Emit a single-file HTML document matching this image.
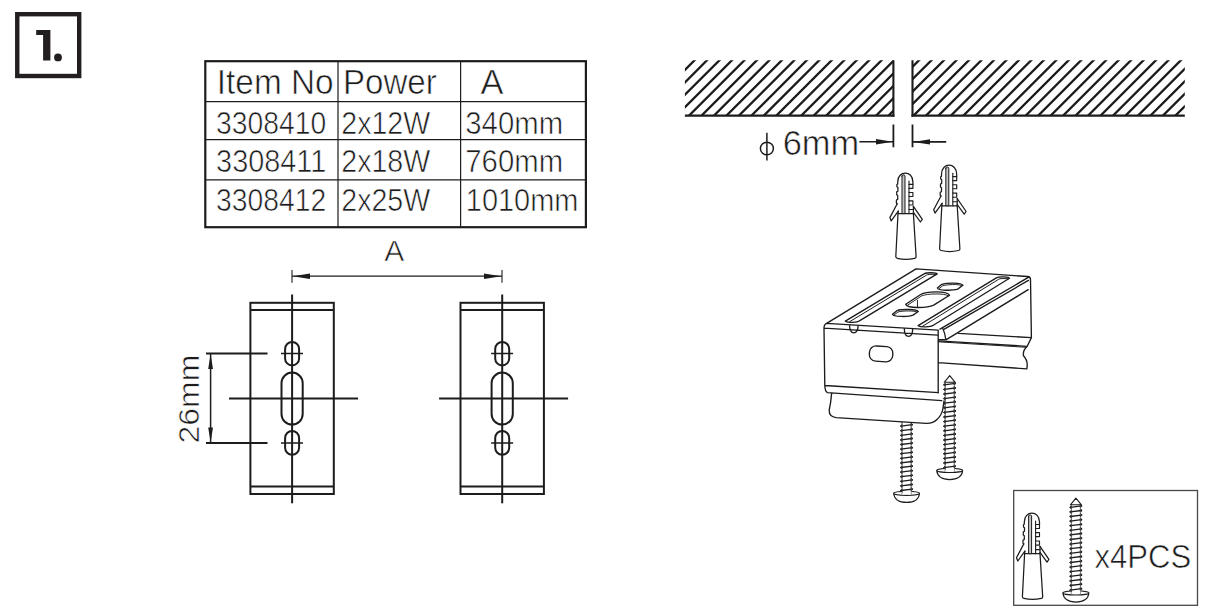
<!DOCTYPE html>
<html>
<head>
<meta charset="utf-8">
<title>1.</title>
<style>
html,body{margin:0;padding:0;background:#fff;}
body{width:1210px;height:616px;overflow:hidden;font-family:"Liberation Sans",sans-serif;}
svg{display:block;}
.t{font-family:"Liberation Sans",sans-serif;fill:#1c1c1c;stroke:#fff;stroke-width:0.6px;paint-order:fill stroke;}
</style>
</head>
<body>
<svg width="1210" height="616" viewBox="0 0 1210 616">
<rect width="1210" height="616" fill="#fff"/>
<defs>
<clipPath id="cl"><rect x="684.9" y="60.3" width="208.5" height="55.4"/></clipPath>
<clipPath id="cr"><rect x="912.5" y="60.3" width="272.3" height="55.4"/></clipPath>
<g id="plug" fill="none" stroke="#1c1c1c" stroke-width="1.25" stroke-linejoin="round" stroke-linecap="round">
<path d="M-7.3 40.6 L-9.5 83.6 Q-9.5 85 -8 85.3 Q0.5 87.4 9.4 85.3 Q10.9 85 10.8 83.6 L8.1 40.6" fill="#fff"/>
<path d="M-7 38.1 L-7.3 40.6 H8.1 V33.3"/>
<path d="M-8.1 30.8 L-15.4 44.6 L-14.1 47.9 L-7 38.1"/>
<path d="M8.1 33.3 L17 46.3 L15.1 49 L8.1 39.3"/>
<path d="M-8.1 30.8 L-8.9 30.2 V27 L-7.6 26.4 V22.6 L-8.6 21.8 V18.8 L-7.4 18.2 V14.6 L-8.4 13.8 V11.6 L-7.6 11 V9 C-7.6 -3 7.6 -3 7.6 9 V11.4"/>
<path d="M3.7 11.4 H7.6 V15.4 H3.7 M3.7 19.5 H7.6 V23.5 H3.7 M3.7 27.9 H7.6 V32 H3.7 M3.7 36.5 H8.1" stroke-width="1.15"/>
<path d="M3.7 8 V40.6" stroke-width="1.1"/>
<path d="M-3.3 3 V40.6 H-0.3 V3 C-0.3 1.4 -3.3 1.4 -3.3 3Z" fill="#c4c4c4" stroke-width="1"/>
</g>
<g id="screw" fill="none" stroke="#1c1c1c" stroke-width="1.1" stroke-linejoin="round" stroke-linecap="round">
<path d="M-12.9 94.7 C-12.6 100.2 -8 103.85 0 103.85 C8 103.85 12.6 100.2 12.9 94.7" fill="#fff" stroke-width="1.2"/>
<ellipse cx="0" cy="94.7" rx="12.9" ry="2.1" fill="#fff"/>
<path d="M-4.7 7 H4.7 V95.8 H-4.7Z" fill="#fff" stroke="none"/>
<path d="M0 0 L-5.5 6.6 H5.5 Z" fill="#fff"/>
<path d="M-4.6 7.6 L-6.3 9.1 L-4.6 10.6 Z M4.6 6.2 L6.3 7.7 L4.6 9.2 Z M-4.6 12.2 L-6.3 13.7 L-4.6 15.2 Z M4.6 10.8 L6.3 12.3 L4.6 13.8 Z M-4.6 16.8 L-6.3 18.3 L-4.6 19.8 Z M4.6 15.4 L6.3 16.9 L4.6 18.4 Z M-4.6 21.4 L-6.3 22.9 L-4.6 24.4 Z M4.6 20 L6.3 21.5 L4.6 23 Z M-4.6 26 L-6.3 27.5 L-4.6 29 Z M4.6 24.6 L6.3 26.1 L4.6 27.6 Z M-4.6 30.6 L-6.3 32.1 L-4.6 33.6 Z M4.6 29.2 L6.3 30.7 L4.6 32.2 Z M-4.6 35.2 L-6.3 36.7 L-4.6 38.2 Z M4.6 33.8 L6.3 35.3 L4.6 36.8 Z M-4.6 39.8 L-6.3 41.3 L-4.6 42.8 Z M4.6 38.4 L6.3 39.9 L4.6 41.4 Z M-4.6 44.4 L-6.3 45.9 L-4.6 47.4 Z M4.6 43 L6.3 44.5 L4.6 46 Z M-4.6 49 L-6.3 50.5 L-4.6 52 Z M4.6 47.6 L6.3 49.1 L4.6 50.6 Z M-4.6 53.6 L-6.3 55.1 L-4.6 56.6 Z M4.6 52.2 L6.3 53.7 L4.6 55.2 Z M-4.6 58.2 L-6.3 59.7 L-4.6 61.2 Z M4.6 56.8 L6.3 58.3 L4.6 59.8 Z M-4.6 62.8 L-6.3 64.3 L-4.6 65.8 Z M4.6 61.4 L6.3 62.9 L4.6 64.4 Z M-4.6 67.4 L-6.3 68.9 L-4.6 70.4 Z M4.6 66 L6.3 67.5 L4.6 69 Z M-4.6 72 L-6.3 73.5 L-4.6 75 Z M4.6 70.6 L6.3 72.1 L4.6 73.6 Z M-4.6 76.6 L-6.3 78.1 L-4.6 79.6 Z M4.6 75.2 L6.3 76.7 L4.6 78.2 Z M-4.6 81.2 L-6.3 82.7 L-4.6 84.2 Z M4.6 79.8 L6.3 81.3 L4.6 82.8 Z M-4.6 85.8 L-6.3 87.3 L-4.6 88.8 Z M4.6 84.4 L6.3 85.9 L4.6 87.4 Z M-4.6 90.4 L-6.3 91.9 L-4.6 93.4 Z M4.6 89 L6.3 90.5 L4.6 92 Z" fill="#1c1c1c" stroke-width="0.7"/>
<path d="M-5.6 9.1 L5.6 7.7 M-5.6 13.7 L5.6 12.3 M-5.6 18.3 L5.6 16.9 M-5.6 22.9 L5.6 21.5 M-5.6 27.5 L5.6 26.1 M-5.6 32.1 L5.6 30.7 M-5.6 36.7 L5.6 35.3 M-5.6 41.3 L5.6 39.9 M-5.6 45.9 L5.6 44.5 M-5.6 50.5 L5.6 49.1 M-5.6 55.1 L5.6 53.7 M-5.6 59.7 L5.6 58.3 M-5.6 64.3 L5.6 62.9 M-5.6 68.9 L5.6 67.5 M-5.6 73.5 L5.6 72.1 M-5.6 78.1 L5.6 76.7 M-5.6 82.7 L5.6 81.3 M-5.6 87.3 L5.6 85.9 M-5.6 91.9 L5.6 90.5" stroke-width="1.3"/>
<path d="M-4.7 7 V95.8 M4.7 7 V95.8" stroke-width="0.6" stroke="#555"/>
</g>
<clipPath id="cs1"><rect x="890" y="422.4" width="40" height="90"/></clipPath>
</defs>
<rect x="17.25" y="14.2" width="61.95" height="61.8" fill="none" stroke="#231f20" stroke-width="4.4"/>
<path d="M36.2 29.9 H50.4 V60.6 H43.1 V35.1 H36.2 Z" fill="#231f20"/>
<circle cx="58" cy="57.4" r="3.9" fill="#231f20"/>
<g fill="none" stroke="#1c1c1c">
<rect x="205.3" y="61.2" width="380.6" height="166" stroke-width="2.2"/>
<path d="M338 61 V227.5 M460.6 61 V227.5 M205 101.6 H586 M205 139.6 H586 M205 179.8 H586" stroke-width="1.2"/>
</g>
<text class="t" x="216.8" y="94.2" font-size="34.5" textLength="116.8" lengthAdjust="spacingAndGlyphs">Item No</text>
<text class="t" x="343" y="94.2" font-size="34.5" textLength="93.8" lengthAdjust="spacingAndGlyphs">Power</text>
<text class="t" x="480.6" y="94.2" font-size="34.5" textLength="23" lengthAdjust="spacingAndGlyphs">A</text>
<text class="t" x="216.1" y="133.6" font-size="30.5" textLength="110.2" lengthAdjust="spacingAndGlyphs">3308410</text>
<text class="t" x="341.3" y="133.6" font-size="30.5" textLength="88.9" lengthAdjust="spacingAndGlyphs">2x12W</text>
<text class="t" x="465.3" y="133.6" font-size="30.5" textLength="97.8" lengthAdjust="spacingAndGlyphs">340mm</text>
<text class="t" x="216.1" y="172.1" font-size="30.5" textLength="110.2" lengthAdjust="spacingAndGlyphs">3308411</text>
<text class="t" x="341.3" y="172.1" font-size="30.5" textLength="88.9" lengthAdjust="spacingAndGlyphs">2x18W</text>
<text class="t" x="465.3" y="172.1" font-size="30.5" textLength="97.8" lengthAdjust="spacingAndGlyphs">760mm</text>
<text class="t" x="216.1" y="211.3" font-size="30.5" textLength="110.2" lengthAdjust="spacingAndGlyphs">3308412</text>
<text class="t" x="341.3" y="211.3" font-size="30.5" textLength="88.9" lengthAdjust="spacingAndGlyphs">2x25W</text>
<text class="t" x="465.8" y="211.3" font-size="30.5" textLength="112.6" lengthAdjust="spacingAndGlyphs">1010mm</text>
<text class="t" x="384.3" y="261.3" font-size="30" textLength="20" lengthAdjust="spacingAndGlyphs">A</text>
<g fill="none" stroke="#1c1c1c" stroke-width="1.3">
<path d="M292 276.2 H502"/><path d="M292 270 V282.8 M502 270 V282.8" stroke-width="1.1"/>
</g>
<path d="M292.6 276.2 L310 273.4 V279 Z M501.4 276.2 L484 273.4 V279 Z" fill="#1c1c1c"/>
<g fill="none" stroke="#1c1c1c" stroke-width="2">
<rect x="250.4" y="302.8" width="83.4" height="191.2"/>
<path d="M250.4 310.1 H333.8 M250.4 486.6 H333.8"/>
<path d="M292.1 294.5 V503.3" stroke-width="2"/>
<path d="M229 398.5 H358" stroke-width="1.8"/>
<rect x="285.1" y="342" width="14" height="23.4" rx="7" ry="7"/>
<rect x="285.1" y="431" width="14" height="23.8" rx="7" ry="7"/>
<rect x="281.5" y="372.6" width="21.2" height="52" rx="10.6" ry="10.6"/>
<path d="M281 353.5 H303 M281 443 H303" stroke-width="1.7"/>
</g>
<g fill="none" stroke="#1c1c1c" stroke-width="2">
<rect x="460.5" y="302.8" width="83.4" height="191.2"/>
<path d="M460.5 310.1 H543.9 M460.5 486.6 H543.9"/>
<path d="M502.2 294.5 V503.3" stroke-width="2"/>
<path d="M439.1 398.5 H568.1" stroke-width="1.8"/>
<rect x="495.2" y="342" width="14" height="23.4" rx="7" ry="7"/>
<rect x="495.2" y="431" width="14" height="23.8" rx="7" ry="7"/>
<rect x="491.6" y="372.6" width="21.2" height="52" rx="10.6" ry="10.6"/>
<path d="M491.1 353.5 H513.1 M491.1 443 H513.1" stroke-width="1.7"/>
</g>
<g fill="none" stroke="#1c1c1c" stroke-width="1.8">
<path d="M206 353.5 H267.5 M206 443 H267.5"/>
<path d="M210.6 354 V442.5" stroke-width="1.5"/>
</g>
<path d="M210.6 354 L208.2 369 H213 Z M210.6 442.6 L208.2 427.5 H213 Z" fill="#1c1c1c"/>
<text class="t" font-size="30.2" transform="translate(199.2 443.6) rotate(-90)" textLength="89" lengthAdjust="spacingAndGlyphs">26mm</text>
<g stroke="#1c1c1c" fill="none">
<path d="M621.68 58.3 L562.28 117.7 M634.15 58.3 L574.75 117.7 M646.62 58.3 L587.22 117.7 M659.09 58.3 L599.69 117.7 M671.56 58.3 L612.16 117.7 M684.03 58.3 L624.63 117.7 M696.5 58.3 L637.1 117.7 M708.97 58.3 L649.57 117.7 M721.44 58.3 L662.04 117.7 M733.91 58.3 L674.51 117.7 M746.38 58.3 L686.98 117.7 M758.85 58.3 L699.45 117.7 M771.32 58.3 L711.92 117.7 M783.79 58.3 L724.39 117.7 M796.26 58.3 L736.86 117.7 M808.73 58.3 L749.33 117.7 M821.2 58.3 L761.8 117.7 M833.67 58.3 L774.27 117.7 M846.14 58.3 L786.74 117.7 M858.61 58.3 L799.21 117.7 M871.08 58.3 L811.68 117.7 M883.55 58.3 L824.15 117.7 M896.02 58.3 L836.62 117.7 M908.49 58.3 L849.09 117.7 M920.96 58.3 L861.56 117.7 M933.43 58.3 L874.03 117.7 M945.9 58.3 L886.5 117.7 M958.37 58.3 L898.97 117.7 M970.84 58.3 L911.44 117.7 M983.31 58.3 L923.91 117.7 M995.78 58.3 L936.38 117.7 M1008.25 58.3 L948.85 117.7 M1020.72 58.3 L961.32 117.7 M1033.19 58.3 L973.79 117.7 M1045.66 58.3 L986.26 117.7 M1058.13 58.3 L998.73 117.7 M1070.6 58.3 L1011.2 117.7 M1083.07 58.3 L1023.67 117.7 M1095.54 58.3 L1036.14 117.7 M1108.01 58.3 L1048.61 117.7 M1120.48 58.3 L1061.08 117.7 M1132.95 58.3 L1073.55 117.7 M1145.42 58.3 L1086.02 117.7 M1157.89 58.3 L1098.49 117.7 M1170.36 58.3 L1110.96 117.7 M1182.83 58.3 L1123.43 117.7 M1195.3 58.3 L1135.9 117.7 M1207.77 58.3 L1148.37 117.7 M1220.24 58.3 L1160.84 117.7 M1232.71 58.3 L1173.31 117.7 M1245.18 58.3 L1185.78 117.7" stroke-width="2.3" clip-path="url(#cl)"/>
<path d="M621.68 58.3 L562.28 117.7 M634.15 58.3 L574.75 117.7 M646.62 58.3 L587.22 117.7 M659.09 58.3 L599.69 117.7 M671.56 58.3 L612.16 117.7 M684.03 58.3 L624.63 117.7 M696.5 58.3 L637.1 117.7 M708.97 58.3 L649.57 117.7 M721.44 58.3 L662.04 117.7 M733.91 58.3 L674.51 117.7 M746.38 58.3 L686.98 117.7 M758.85 58.3 L699.45 117.7 M771.32 58.3 L711.92 117.7 M783.79 58.3 L724.39 117.7 M796.26 58.3 L736.86 117.7 M808.73 58.3 L749.33 117.7 M821.2 58.3 L761.8 117.7 M833.67 58.3 L774.27 117.7 M846.14 58.3 L786.74 117.7 M858.61 58.3 L799.21 117.7 M871.08 58.3 L811.68 117.7 M883.55 58.3 L824.15 117.7 M896.02 58.3 L836.62 117.7 M908.49 58.3 L849.09 117.7 M920.96 58.3 L861.56 117.7 M933.43 58.3 L874.03 117.7 M945.9 58.3 L886.5 117.7 M958.37 58.3 L898.97 117.7 M970.84 58.3 L911.44 117.7 M983.31 58.3 L923.91 117.7 M995.78 58.3 L936.38 117.7 M1008.25 58.3 L948.85 117.7 M1020.72 58.3 L961.32 117.7 M1033.19 58.3 L973.79 117.7 M1045.66 58.3 L986.26 117.7 M1058.13 58.3 L998.73 117.7 M1070.6 58.3 L1011.2 117.7 M1083.07 58.3 L1023.67 117.7 M1095.54 58.3 L1036.14 117.7 M1108.01 58.3 L1048.61 117.7 M1120.48 58.3 L1061.08 117.7 M1132.95 58.3 L1073.55 117.7 M1145.42 58.3 L1086.02 117.7 M1157.89 58.3 L1098.49 117.7 M1170.36 58.3 L1110.96 117.7 M1182.83 58.3 L1123.43 117.7 M1195.3 58.3 L1135.9 117.7 M1207.77 58.3 L1148.37 117.7 M1220.24 58.3 L1160.84 117.7 M1232.71 58.3 L1173.31 117.7 M1245.18 58.3 L1185.78 117.7" stroke-width="2.3" clip-path="url(#cr)"/>
<path d="M684.9 115.7 H894.4 M911.5 115.7 H1184.8" stroke-width="2.3"/>
<path d="M893.4 60.3 V116.8 M912.5 60.3 V116.8" stroke-width="2.1"/>
<path d="M893.4 124.6 V147.2 M912.5 124.6 V147.2" stroke-width="1.8"/>
<path d="M859.4 141.8 H893 M913 141.9 H946.2" stroke-width="1.6"/>
</g>
<path d="M892.8 141.8 L876 139.1 V144.5 Z M913.2 141.9 L930 139.2 V144.6 Z" fill="#1c1c1c"/>
<text class="t" x="782.7" y="155.2" font-size="34.5" textLength="76.5" lengthAdjust="spacingAndGlyphs">6mm</text>
<g fill="none" stroke="#1c1c1c" stroke-width="1.5"><ellipse cx="766.9" cy="148.5" rx="6.5" ry="6.3"/><path d="M766.9 132.8 V160.6"/></g>
<use href="#plug" x="905.3" y="173"/>
<use href="#plug" x="949.1" y="165.2"/>
<use href="#plug" x="1031.9" y="513.1"/>
<g clip-path="url(#cs1)"><use href="#screw" x="906.6" y="398.6"/></g>
<use href="#screw" x="949.7" y="375.7"/>
<use href="#screw" x="1075.9" y="498.2"/>
<g fill="none" stroke="#1c1c1c" stroke-width="1.35" stroke-linejoin="round" stroke-linecap="round">
<path d="M824 328.2 Q824 324.2 826.6 323.3 L916.1 268.8 L1027.6 276.5 Q1030.5 276.7 1030.5 279.5 L1031.4 337 M826.6 323.3 L938.2 330.1 M824 328.2 L937.6 335.2 M824 328.2 L824.8 385.5 M938.2 330.1 V392.7 M824.8 385.5 L938.4 392.7 M824.8 385.5 Q825 391.5 827.5 392.7 L941.8 400.7 M831.6 393.4 Q831 402 829.3 409.5 Q828.5 416.5 836 417.6 L926 423.3 Q933 423.6 937 419.5 Q942.3 414.5 943 408 L944 401 M849.5 325 Q849.6 332.7 853.8 332.9 Q858 332.7 858.1 325.5 M904.3 328.4 Q904.4 336.1 908.5 336.3 Q912.6 336.1 912.7 328.9 M940 329.2 L1028.3 277.4 M943.9 329.3 L1028.4 280.4 M946.3 339.6 L1028.2 289.7 M942.9 328.7 Q945 333 945.8 339.5 L938.2 339.6 M958.5 333.4 L1031.4 337.6 L1027.2 346.3 M938.2 340.8 L1027.2 346.3 Q1022.6 350.5 1023.5 355.8 Q1028.5 361 1026.8 368.9 L938.3 362.6"/>
<path d="M938.2 341.8 L1026.6 347.3" stroke-width="1"/>
<rect x="-11.7" y="-7.6" width="23.4" height="15.2" rx="6.5" ry="6.5" transform="translate(881.1 353.9) rotate(4)"/>
<path d="M845.3 321.1 L924.5 273.7 C926.7 272.4 936.7 272.3 937.2 273.9 L859.8 320.7 C857.3 322.4 848.3 323.3 845.3 321.1Z"/>
<path d="M849.65 321.68 L926.53 275.13 Q928.03 274.03 936 274.4" stroke-width="1"/>
<path d="M918.1 325.6 L996.8 277.7 C999 276.4 1009 276.7 1009.5 278.3 L933.3 325.2 C930.8 326.9 921.1 327.8 918.1 325.6Z"/>
<path d="M922.66 326.18 L998.83 279.2 Q1000.33 278.1 1008.3 278.8" stroke-width="1"/>
<path d="M905.7 304.22 L920.71 294.48 C925.58 291.23 947.5 290.42 949.53 295.29 L933.7 305.19 C927.21 308.28 906.92 308.69 905.7 304.22Z"/>
<path d="M907.56 305.19 L921.69 295.86 C927.21 293.51 945.06 293.02 948.31 295.78" stroke-width="0.95"/>
<path d="M937.35 287.99 L941.82 284.33 C946.69 282.71 961.3 282.31 962.92 285.15 L957.24 289.45 C952.37 290.58 937.76 290.83 937.35 287.99Z"/>
<path d="M939.22 288.47 L942.79 285.71 C947.5 284.42 958.05 283.93 961.3 285.39" stroke-width="0.95"/>
<path d="M892.47 314.37 L897.18 310.55 C901.23 309.09 917.06 308.93 918.28 311.53 L913 315.18 C908.54 317.21 893.12 316.8 892.47 314.37Z"/>
<path d="M894.33 314.77 L898.15 311.93 C902.86 310.71 915.03 310.47 916.82 311.93" stroke-width="0.95"/>
<path d="M917.47 300.32 L917.47 307.14" stroke-width="0.95"/>
</g>
<rect x="1013.7" y="490.5" width="183.8" height="114.8" fill="none" stroke="#484848" stroke-width="1.3"/>
<text class="t" x="1094.5" y="568.3" font-size="34" textLength="96.6" lengthAdjust="spacingAndGlyphs">x4PCS</text>
</svg>
</body>
</html>
